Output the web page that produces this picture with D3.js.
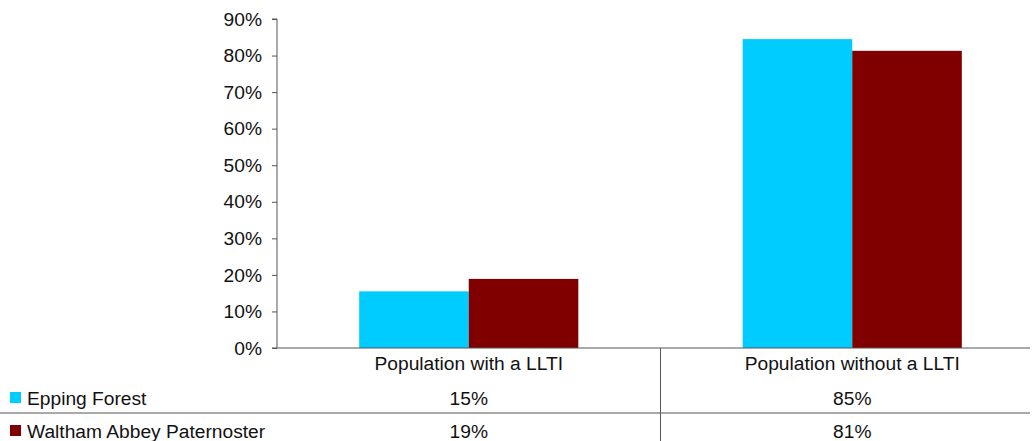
<!DOCTYPE html>
<html>
<head>
<meta charset="utf-8">
<script src="https://cdn.jsdelivr.net/npm/d3@7"></script>
<style>
  body { margin: 0; background: #fff; }
  svg { display: block; font-family: "Liberation Sans", Arial, sans-serif; }
</style>
</head>
<body>
<svg id="chart" width="1033" height="441"></svg>
<script>
// Data
var categories = ["Population with a LLTI", "Population without a LLTI"];
var seriesNames = ["Epping Forest", "Waltham Abbey Paternoster"];
var eppingForest = [0.155, 0.845];
var walthamAbbey = [0.189, 0.813];
var tableLabels = [["15%", "85%"], ["19%", "81%"]];
var colors = ["#00ccff", "#800000"];
var yTicks = [0, 0.1, 0.2, 0.3, 0.4, 0.5, 0.6, 0.7, 0.8, 0.9];

var svg = d3.select("#chart"),
    fontSize = 19.2,
    plotLeft = 277, plotRight = 1030, plotTop = 19, plotBottom = 348;

var x = d3.scaleBand().domain(categories).range([plotLeft, plotRight + 14]).paddingInner(0).paddingOuter(0);
var y = d3.scaleLinear().domain([0, 0.9]).range([plotBottom, plotTop]);
var xs = d3.scaleBand().domain(seriesNames).range([0, x.bandwidth()]).paddingInner(0).paddingOuter(0.75);

var series = [eppingForest, walthamAbbey];

// Bars
series.forEach(function(vals, si) {
  svg.append("g").selectAll("rect")
    .data(vals)
    .enter().append("rect")
      .attr("x", function(d, i) { return x(categories[i]) + xs(seriesNames[si]); })
      .attr("y", function(d) { return y(d); })
      .attr("width", xs.bandwidth())
      .attr("height", function(d) { return plotBottom - y(d); })
      .attr("fill", colors[si]);
});

// Y axis
var yAxis = d3.axisLeft(y).tickValues(yTicks).tickFormat(d3.format(".0%")).tickSize(5).tickPadding(10);
var ya = svg.append("g").attr("transform", "translate(" + plotLeft + ",0)").call(yAxis);
ya.select(".domain").attr("stroke", "#555").attr("d", "M-5," + plotTop + "H0V" + plotBottom);
ya.selectAll("line").attr("stroke", "#555");
ya.selectAll("text").attr("font-size", fontSize).attr("fill", "#111").attr("font-family", "Liberation Sans, Arial, sans-serif");

// Data table lines
svg.append("line").attr("x1", plotLeft - 5).attr("x2", plotRight).attr("y1", plotBottom).attr("y2", plotBottom).attr("stroke", "#555");
svg.append("line").attr("x1", 0).attr("x2", plotRight).attr("y1", 413).attr("y2", 413).attr("stroke", "#555");
svg.append("line").attr("x1", x(categories[1])).attr("x2", x(categories[1]))
  .attr("y1", plotBottom).attr("y2", 441).attr("stroke", "#555");

// Category labels
svg.append("g").selectAll("text")
  .data(categories)
  .enter().append("text")
    .attr("x", function(d) { return x(d) + x.bandwidth() / 2; })
    .attr("y", 370)
    .attr("text-anchor", "middle")
    .attr("font-size", fontSize)
    .attr("fill", "#111")
    .text(function(d) { return d; });

// Table rows: legend key + values
seriesNames.forEach(function(name, si) {
  var cy = si === 0 ? 398 : 431;
  svg.append("rect").attr("x", 10).attr("y", cy - 6).attr("width", 11).attr("height", 11).attr("fill", colors[si]);
  svg.append("text").attr("x", 27).attr("y", cy + 7).attr("font-size", fontSize).attr("fill", "#111").text(name);
  svg.append("g").selectAll("text")
    .data(tableLabels[si])
    .enter().append("text")
      .attr("x", function(d, i) { return x(categories[i]) + x.bandwidth() / 2; })
      .attr("y", cy + 7)
      .attr("text-anchor", "middle")
      .attr("font-size", fontSize)
      .attr("fill", "#111")
      .text(function(d) { return d; });
});
</script>
</body>
</html>
